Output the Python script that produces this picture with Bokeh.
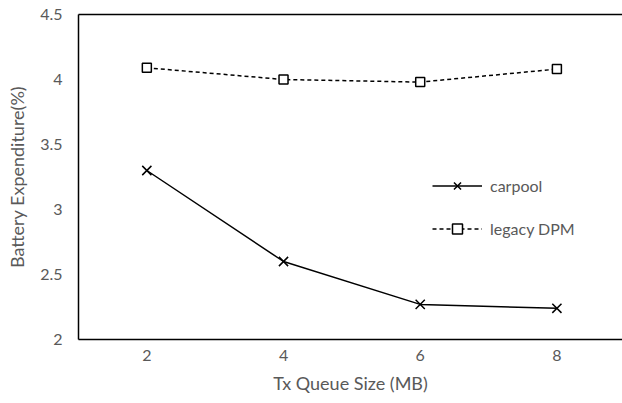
from bokeh.plotting import figure
from bokeh.models import Range1d, FixedTicker, NumeralTickFormatter, LinearAxis, Legend, LegendItem
from bokeh.embed import file_html
from bokeh.resources import INLINE

queue_sizes = [2, 4, 6, 8]
carpool = [3.30, 2.60, 2.27, 2.24]
legacy_dpm = [4.09, 4.00, 3.98, 4.08]
x_ticks = [2, 4, 6, 8]
y_ticks = [2, 2.5, 3, 3.5, 4, 4.5]

FONT = "Lato"
GRAY = "#595959"

p = figure(width=622, height=403, output_backend="svg", toolbar_location=None,
           x_range=Range1d(1, 8.96), y_range=Range1d(2, 4.5),
           min_border_left=78, min_border_right=0, min_border_top=14, min_border_bottom=64)
p.outline_line_color = None
p.xgrid.visible = False
p.ygrid.visible = False

for ax in (p.xaxis[0], p.yaxis[0]):
    ax.axis_line_color = "black"
    ax.axis_line_width = 1.5
    ax.major_tick_line_color = None
    ax.minor_tick_line_color = None
    ax.major_tick_out = 0
    ax.major_tick_in = 0
    ax.major_label_text_font = FONT
    ax.major_label_text_font_size = "16px"
    ax.major_label_text_color = GRAY
    ax.axis_label_text_font = FONT
    ax.axis_label_text_font_size = "18px"
    ax.axis_label_text_color = GRAY
    ax.axis_label_text_font_style = "normal"

p.xaxis[0].ticker = FixedTicker(ticks=x_ticks)
p.xaxis[0].axis_label = "Tx Queue Size (MB)"
p.xaxis[0].major_label_standoff = 10
p.xaxis[0].axis_label_standoff = 8

p.yaxis[0].ticker = FixedTicker(ticks=y_ticks)
p.yaxis[0].formatter = NumeralTickFormatter(format="0.[0]")
p.yaxis[0].axis_label = "Battery Expenditure(%)"
p.yaxis[0].major_label_standoff = 16
p.yaxis[0].axis_label_standoff = 9

top = LinearAxis(ticker=FixedTicker(ticks=[]), axis_line_color="black", axis_line_width=1.5,
                 major_tick_line_color=None, minor_tick_line_color=None,
                 major_label_text_font_size="0px", major_tick_out=0, major_tick_in=0,
                 major_label_standoff=0)
p.add_layout(top, "above")

l1 = p.line(queue_sizes, carpool, line_color="black", line_width=1.5)
m1 = p.scatter(queue_sizes, carpool, marker="x", size=13, line_color="black", line_width=1.5)
l2 = p.line(queue_sizes, legacy_dpm, line_color="black", line_width=1.5, line_dash="4 3")
m2 = p.scatter(queue_sizes, legacy_dpm, marker="square", size=9, line_color="black",
               fill_color="white", line_width=1.5)

legend = Legend(items=[LegendItem(label="carpool", renderers=[l1, m1]),
                       LegendItem(label="legacy DPM", renderers=[l2, m2])],
                location=(354, 98), orientation="vertical",
                border_line_color=None, background_fill_alpha=0,
                padding=0, margin=0, spacing=18,
                glyph_width=50, glyph_height=25, label_height=25,
                label_standoff=8, label_text_font=FONT, label_text_font_size="16px",
                label_text_color=GRAY)
p.add_layout(legend, "center")

open("out.html", "w").write(file_html(p, INLINE))
